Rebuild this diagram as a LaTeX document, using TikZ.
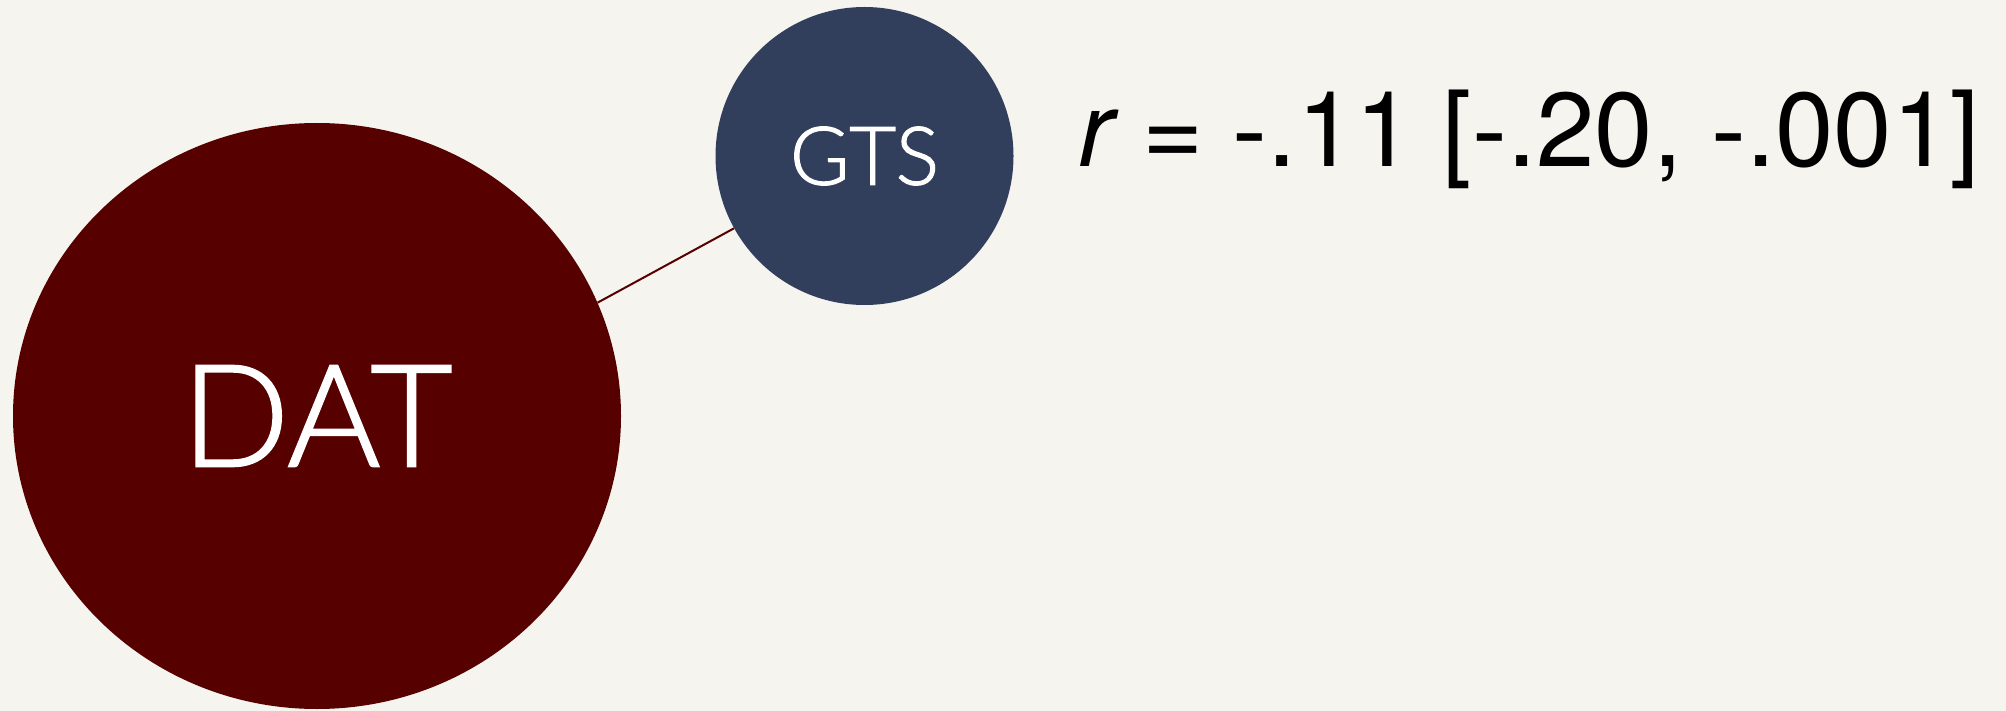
\documentclass[tikz,border=0pt]{standalone}
\usepackage{fontspec}
\setmainfont{TeX Gyre Heros}
\newfontfamily\statfont{TeX Gyre Heros}
\newfontfamily\labelfont[FakeBold=1.5]{Lato Light}
\usetikzlibrary{shapes.geometric}
\definecolor{bgcol}{RGB}{245,244,239}
\definecolor{datcol}{RGB}{87,0,0}
\definecolor{gtscol}{RGB}{50,63,92}
\tikzset{
  datnode/.style={ellipse, fill=datcol, inner sep=0pt, minimum width=608pt, minimum height=586pt,
    text=white, font=\labelfont\fontsize{142}{150}\selectfont},
  gtsnode/.style={circle, fill=gtscol, inner sep=0pt, minimum size=298pt,
    text=white, font=\labelfont\fontsize{81}{90}\selectfont},
  link/.style={draw=datcol, line width=2pt},
  stat/.style={anchor=base west, inner sep=0pt, text=black, font=\statfont\fontsize{105}{120}\selectfont}
}
\begin{document}
\begin{tikzpicture}[x=1pt,y=-1pt]
\fill[bgcol] (0,0) rectangle (2006,711);
\useasboundingbox (0,0) rectangle (2006,711);
\node[datnode] (DAT) at (317,416) {DAT};
\node[gtsnode] (GTS) at (864.5,156) {GTS};
\draw[link] (DAT.22) -- (GTS.209);
\node[stat] (R) at (1078,167) {{\itshape r} = -.11 [-.20, -.001]};
\end{tikzpicture}
\end{document}
